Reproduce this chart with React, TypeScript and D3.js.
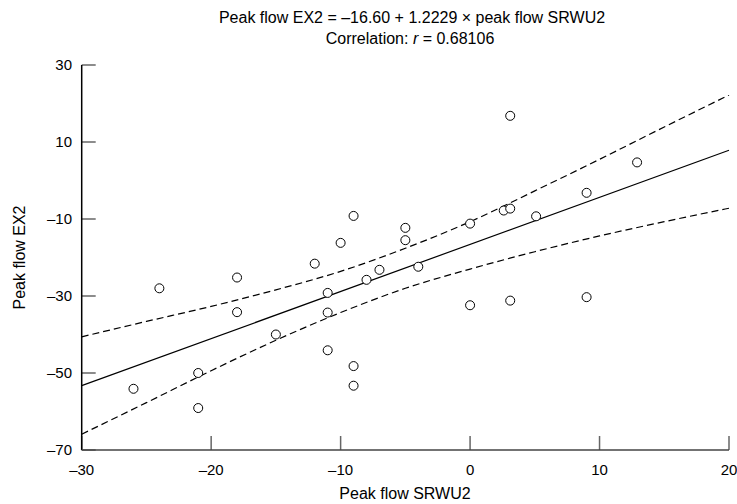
import React from 'react';
import * as d3 from 'd3';

// observations: peak flow SRWU2 (x) and peak flow EX2 (y)
const srwu2 = [-26, -24, -21, -21, -18, -18, -15, -12, -11, -11, -11, -10, -9, -9, -9, -8, -7, -5, -5, -4, 0, 0, 2.6, 3.1, 3.1, 3.1, 5.1, 9, 9, 12.9];
const ex2 = [-54.1, -28, -50, -59.1, -25.2, -34.2, -40, -21.6, -29.2, -34.3, -44.1, -16.2, -9.2, -48.2, -53.3, -25.8, -23.2, -12.3, -15.5, -22.4, -11.2, -32.4, -7.8, -7.3, -31.2, 16.8, -9.3, -3.2, -30.3, 4.7];

// regression line from the title
const intercept = -16.6;
const slope = 1.2229;

// confidence band
const bandX = [-30, -25, -20, -15, -10, -5, 0, 5, 10, 15, 20];
const bandUpper = [-40.6, -36.6, -32.7, -28.4, -23.6, -17.6, -10.7, -2.7, 5.5, 13.9, 22.2];
const bandLower = [-65.9, -57.7, -49.4, -41.5, -34.3, -28.0, -23.0, -18.5, -14.4, -10.7, -7.2];

const xTicks = [-30, -20, -10, 0, 10, 20];
const yTicks = [-70, -50, -30, -10, 10, 30];

const W = 737;
const H = 504;
const left = 81.7, right = 729, top = 65, bottom = 450;
const font = '"Liberation Sans", Arial, sans-serif';

const fmt = (v: number) => (v < 0 ? '\u2013' + Math.abs(v) : String(v));

export default function App() {
  const x = d3.scaleLinear().domain([-30, 20]).range([left, right]);
  const y = d3.scaleLinear().domain([-70, 30]).range([bottom, top]);

  const fit = d3.line<number>()
    .x(d => x(d))
    .y(d => y(intercept + slope * d));

  const band = (vals: number[]) =>
    d3.line<number>()
      .x((_, i) => x(bandX[i]))
      .y(d => y(d))
      .curve(d3.curveMonotoneX)(vals) || '';

  return (
    <svg width={W} height={H} style={{ position: 'absolute', left: 0, top: 0, background: '#fff' }} fontFamily={font}>
      <text x={412} y={23} textAnchor="middle" fontSize={16}>
        Peak flow EX2 = {'\u2013'}16.60 + 1.2229 {'\u00d7'} peak flow SRWU2
      </text>
      <text x={410} y={44} textAnchor="middle" fontSize={16}>
        Correlation: <tspan fontStyle="italic">r</tspan> = 0.68106
      </text>

      {/* ticks */}
      {yTicks.map(t => (
        <g key={'y' + t}>
          <line x1={left} x2={left + 14} y1={y(t)} y2={y(t)} stroke="#666" strokeWidth={1.5} />
          <text x={72} y={y(t)} dy="0.35em" textAnchor="end" fontSize={15}>{fmt(t)}</text>
        </g>
      ))}
      {xTicks.map(t => (
        <g key={'x' + t}>
          <line x1={x(t)} x2={x(t)} y1={bottom} y2={bottom - 14} stroke="#666" strokeWidth={1.5} />
          <text x={x(t)} y={475} textAnchor="middle" fontSize={15}>{fmt(t)}</text>
        </g>
      ))}

      <line x1={left} x2={left} y1={top} y2={bottom} stroke="#000" strokeWidth={1.5} />
      <line x1={left} x2={right} y1={bottom} y2={bottom} stroke="#444" strokeWidth={1.5} />

      <path d={fit([-30, 20]) || ''} fill="none" stroke="#000" strokeWidth={1.2} />
      <path d={band(bandUpper)} fill="none" stroke="#000" strokeWidth={1.2} strokeDasharray="7,4" />
      <path d={band(bandLower)} fill="none" stroke="#000" strokeWidth={1.2} strokeDasharray="7,4" />

      {srwu2.map((v, i) => (
        <circle key={i} cx={x(v)} cy={y(ex2[i])} r={4.5} fill="#fff" stroke="#000" strokeWidth={1} />
      ))}

      <text x={405} y={499} textAnchor="middle" fontSize={16}>Peak flow SRWU2</text>
      <text transform={`translate(25,${(top + bottom) / 2}) rotate(-90)`} textAnchor="middle" fontSize={16}>Peak flow EX2</text>
    </svg>
  );
}
